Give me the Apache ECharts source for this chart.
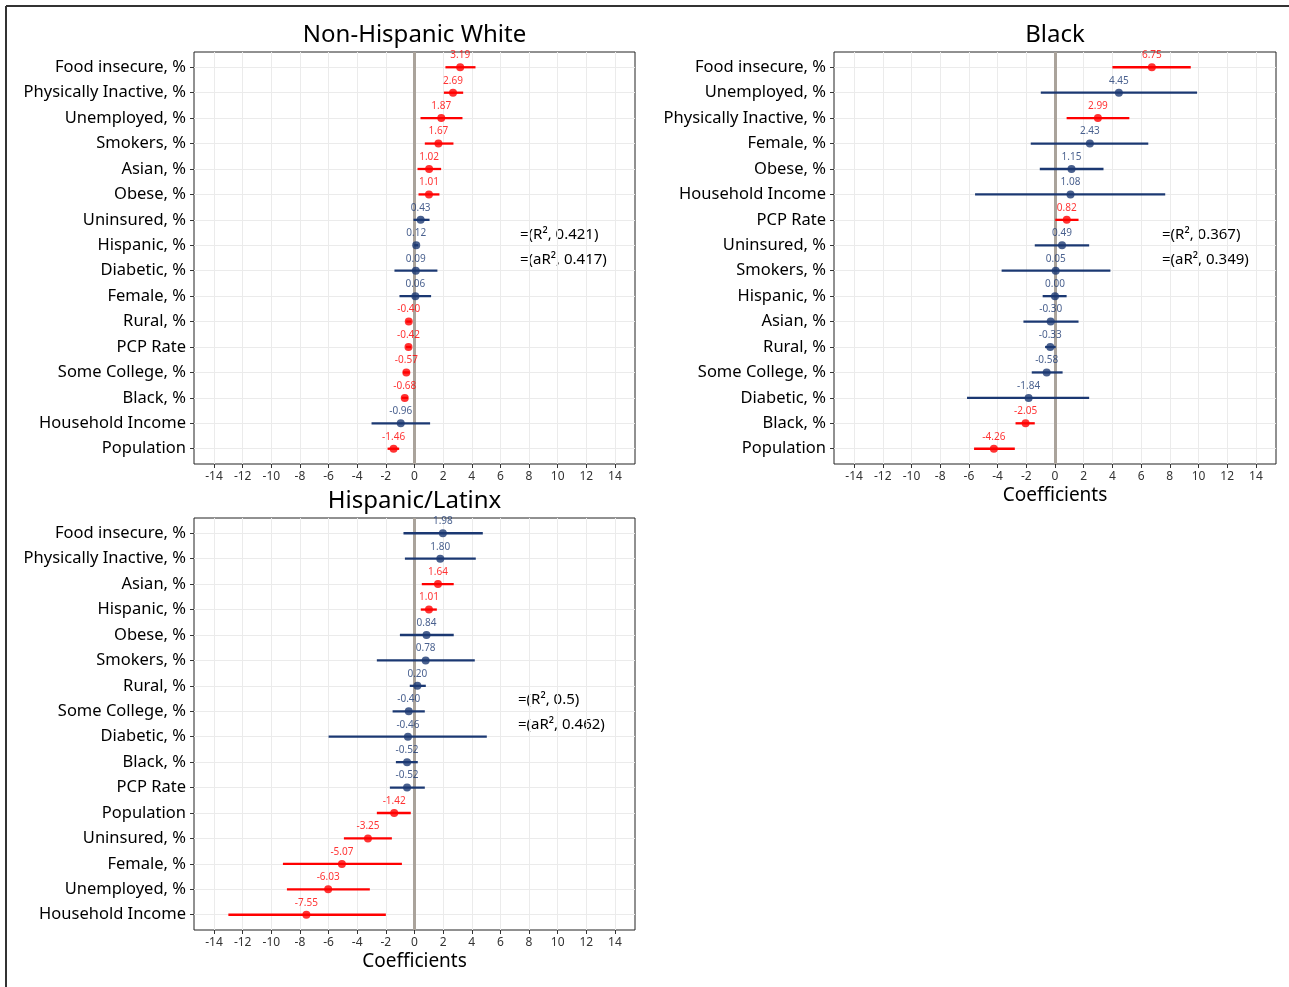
<!DOCTYPE html>
<html>
	<head>
		<meta charset="UTF-8">
		<title>Coefficients</title>
		<script src="https://cdn.jsdelivr.net/npm/echarts@6/dist/echarts.min.js" type="text/javascript" charset="utf-8"></script>
		<style>
			html, body { margin: 0; padding: 0; background: #fff; }
		</style>
	</head>
	<body>
		<div id="chart" style="width: 1289px;height: 987px;"></div>
		<script type="text/javascript">
			// Non-Hispanic White
			var whiteCats = ['Food insecure, %', 'Physically Inactive, %', 'Unemployed, %', 'Smokers, %', 'Asian, %', 'Obese, %', 'Uninsured, %', 'Hispanic, %', 'Diabetic, %', 'Female, %', 'Rural, %', 'PCP Rate', 'Some College, %', 'Black, %', 'Household Income', 'Population'];
			var whiteEst = [3.19, 2.69, 1.87, 1.67, 1.02, 1.01, 0.43, 0.12, 0.09, 0.06, -0.40, -0.42, -0.57, -0.68, -0.96, -1.46];
			var whiteLo = [2.16, 2.05, 0.42, 0.72, 0.21, 0.28, -0.07, -0.02, -1.40, -1.05, -0.58, -0.60, -0.81, -0.90, -3.00, -1.88];
			var whiteHi = [4.26, 3.40, 3.35, 2.72, 1.86, 1.74, 1.05, 0.26, 1.60, 1.16, -0.22, -0.24, -0.33, -0.46, 1.09, -1.07];

			// Black
			var blackCats = ['Food insecure, %', 'Unemployed, %', 'Physically Inactive, %', 'Female, %', 'Obese, %', 'Household Income', 'PCP Rate', 'Uninsured, %', 'Smokers, %', 'Hispanic, %', 'Asian, %', 'Rural, %', 'Some College, %', 'Diabetic, %', 'Black, %', 'Population'];
			var blackEst = [6.75, 4.45, 2.99, 2.43, 1.15, 1.08, 0.82, 0.49, 0.05, 0.00, -0.30, -0.33, -0.58, -1.84, -2.05, -4.26];
			var blackLo = [4.00, -0.99, 0.81, -1.69, -1.06, -5.57, 0.02, -1.41, -3.72, -0.86, -2.20, -0.69, -1.62, -6.13, -2.75, -5.64];
			var blackHi = [9.46, 9.90, 5.18, 6.50, 3.38, 7.68, 1.64, 2.38, 3.86, 0.81, 1.64, 0.05, 0.53, 2.38, -1.41, -2.80];

			// Hispanic/Latinx
			var hispCats = ['Food insecure, %', 'Physically Inactive, %', 'Asian, %', 'Hispanic, %', 'Obese, %', 'Smokers, %', 'Rural, %', 'Some College, %', 'Diabetic, %', 'Black, %', 'PCP Rate', 'Population', 'Uninsured, %', 'Female, %', 'Unemployed, %', 'Household Income'];
			var hispEst = [1.98, 1.80, 1.64, 1.01, 0.84, 0.78, 0.20, -0.40, -0.46, -0.52, -0.52, -1.42, -3.25, -5.07, -6.03, -7.55];
			var hispLo = [-0.77, -0.67, 0.51, 0.44, -1.02, -2.63, -0.33, -1.53, -6.00, -1.30, -1.72, -2.63, -4.93, -9.19, -8.91, -13.00];
			var hispHi = [4.77, 4.28, 2.74, 1.56, 2.74, 4.21, 0.79, 0.72, 5.05, 0.23, 0.72, -0.26, -1.58, -0.88, -3.12, -2.00];

			var xTicks = [-14, -12, -10, -8, -6, -4, -2, 0, 2, 4, 6, 8, 10, 12, 14];
			var panelTitles = ['Non-Hispanic White', 'Black', 'Hispanic/Latinx'];
			var fitStats = [['=(R\u00b2, 0.421)', '=(aR\u00b2, 0.417)'], ['=(R\u00b2, 0.367)', '=(aR\u00b2, 0.349)'], ['=(R\u00b2, 0.5)', '=(aR\u00b2, 0.462)']];

			var RED = '#ff0000';
			var NAVY = '#1b3872';
			var FONT = '"Noto Sans", "Open Sans", sans-serif';

			var panels = [
				{cats: whiteCats, est: whiteEst, lo: whiteLo, hi: whiteHi, grid: {left: 194, top: 52, width: 441, height: 412}, xName: ''},
				{cats: blackCats, est: blackEst, lo: blackLo, hi: blackHi, grid: {left: 834, top: 52, width: 442, height: 412}, xName: 'Coefficients'},
				{cats: hispCats, est: hispEst, lo: hispLo, hi: hispHi, grid: {left: 194, top: 518, width: 441, height: 412}, xName: 'Coefficients'}
			];

			function sigColor(lo, hi) {
				return (lo > 0 || hi < 0) ? RED : NAVY;
			}

			var grids = [], xAxes = [], yAxes = [], series = [], graphics = [];

			panels.forEach(function (p, k) {
				var rows = p.cats.map(function (c, i) { return i; });
				grids.push({
					left: p.grid.left, top: p.grid.top, width: p.grid.width, height: p.grid.height,
					show: true, borderColor: '#222', borderWidth: 1, backgroundColor: '#fff'
				});
				xAxes.push({
					gridIndex: k, type: 'value', position: 'bottom', min: -15.4, max: 15.4,
					name: p.xName, nameLocation: 'middle', nameGap: 22,
					nameTextStyle: {fontSize: 19, color: '#000', fontFamily: FONT},
					axisLine: {show: false, onZero: false},
					axisTick: {show: true, length: 4, customValues: xTicks, lineStyle: {color: '#333'}},
					axisLabel: {
						show: true, fontSize: 12, color: '#333', fontFamily: FONT, margin: 7,
						customValues: xTicks
					},
					splitLine: {show: true, lineStyle: {color: '#ebebeb', width: 1}}
				});
				var cats = p.cats;
				yAxes.push({
					gridIndex: k, type: 'value', position: 'left', min: -0.6, max: 15.6, inverse: true,
					axisLine: {show: false, onZero: false},
					axisTick: {show: true, length: 4, customValues: rows, lineStyle: {color: '#333'}},
					axisLabel: {
						show: true, fontSize: 16.5, color: '#000', fontFamily: FONT, margin: 8,
						customValues: rows,
						formatter: function (v) { return cats[Math.round(v)] || ''; }
					},
					splitLine: {show: true, lineStyle: {color: '#ebebeb', width: 1}}
				});

				var barData = p.lo.map(function (lo, i) { return [lo, p.hi[i], i]; });
				var pointData = p.est.map(function (e, i) {
					var c = sigColor(p.lo[i], p.hi[i]);
					return {value: [e, i], itemStyle: {color: c}, label: {color: c}};
				});

				// zero reference line + error bars
				series.push({
					type: 'custom', xAxisIndex: k, yAxisIndex: k, z: 3, silent: true,
					data: barData,
					renderItem: function (params, api) {
						var lo = api.value(0), hi = api.value(1), row = api.value(2);
						var a = api.coord([lo, row]);
						var b = api.coord([hi, row]);
						return {
							type: 'line',
							shape: {x1: a[0], y1: a[1], x2: b[0], y2: b[1]},
							style: {stroke: sigColor(lo, hi), lineWidth: 2.3}
						};
					},
					markLine: {
						silent: true, symbol: 'none', z: 2,
						label: {show: false},
						lineStyle: {color: '#aaa39b', width: 3, type: 'solid'},
						data: [{xAxis: 0}]
					}
				});
				series.push({
					type: 'scatter', xAxisIndex: k, yAxisIndex: k, z: 4, silent: true,
					symbol: 'circle', symbolSize: 8,
					data: pointData,
					label: {
						show: true, position: 'top', distance: 3,
						fontSize: 10, fontFamily: FONT,
						formatter: function (d) { return d.value[0].toFixed(2); }
					}
				});

				// panel title
				graphics.push({
					type: 'text', x: p.grid.left + p.grid.width / 2, y: p.grid.top - 17,
					style: {text: panelTitles[k], fontSize: 24, fontFamily: FONT, fill: '#000', align: 'center', verticalAlign: 'middle'}
				});
			});

			// R² annotations
			var statPos = [[520, 235], [1162, 235], [518, 700]];
			statPos.forEach(function (pos, k) {
				graphics.push({
					type: 'text', x: pos[0], y: pos[1],
					style: {text: fitStats[k][0], fontSize: 15, fontFamily: FONT, fill: '#000', align: 'left', verticalAlign: 'middle'}
				});
				graphics.push({
					type: 'text', x: pos[0], y: pos[1] + 25,
					style: {text: fitStats[k][1], fontSize: 15, fontFamily: FONT, fill: '#000', align: 'left', verticalAlign: 'middle'}
				});
			});

			// outer frame
			graphics.push({type: 'line', shape: {x1: 6, y1: 6, x2: 1289, y2: 6}, style: {stroke: '#333', lineWidth: 2}});
			graphics.push({type: 'line', shape: {x1: 6, y1: 6, x2: 6, y2: 987}, style: {stroke: '#333', lineWidth: 2}});

			var chart = echarts.init(document.getElementById('chart'), null, {renderer: 'canvas'});
			chart.setOption({
				animation: false,
				backgroundColor: '#fff',
				grid: grids,
				xAxis: xAxes,
				yAxis: yAxes,
				series: series,
				graphic: graphics
			});
		</script>
	</body>
</html>
